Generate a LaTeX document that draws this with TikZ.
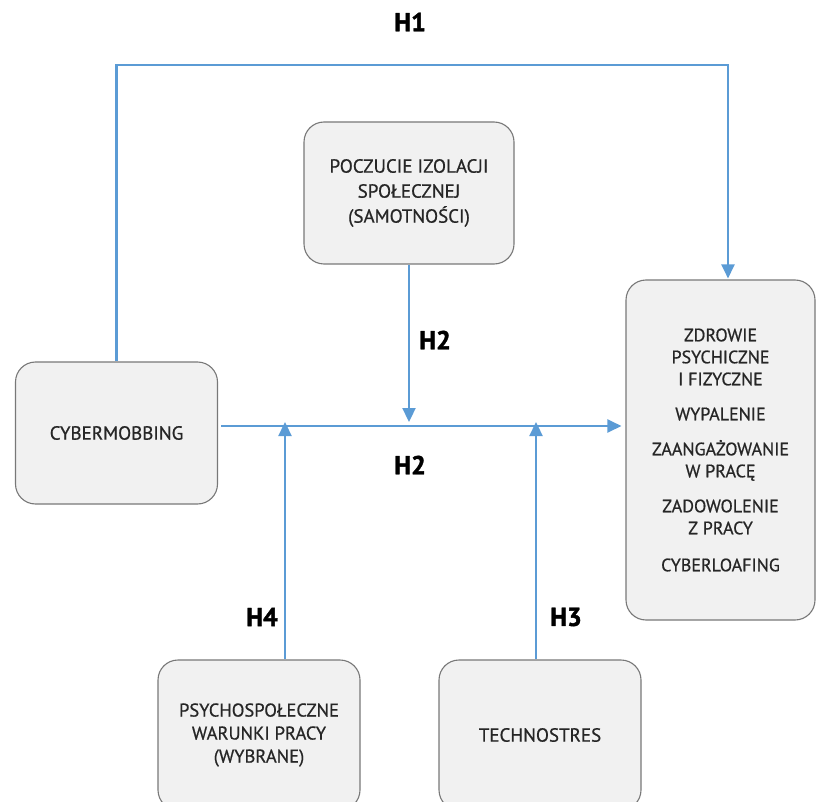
\documentclass[tikz,border=0pt]{standalone}
\usepackage{fontspec}
\setmainfont{PT Sans}[FakeBold=0.7, BoldFeatures={FakeBold=1.6}]
\usetikzlibrary{arrows.meta,positioning,calc}
\definecolor{linkblue}{RGB}{91,155,213}
\definecolor{boxgray}{RGB}{241,241,241}
\definecolor{edgegray}{RGB}{120,120,120}

\begin{document}
\begin{tikzpicture}[x=1pt,y=-1pt,
  box/.style={rectangle, draw=edgegray, fill=boxgray, line width=1.1pt, rounded corners=20pt,
              align=center, text=black!85, font=\fontsize{19}{25}\selectfont,
              minimum width=202pt, minimum height=142pt},
  arr/.style={-{Triangle[length=14pt,width=13pt]}, line width=2.3pt, linkblue},
  hyp/.style={font=\fontsize{26}{26}\selectfont\bfseries}
]
\useasboundingbox (0,0) rectangle (816,802);
\clip (0,0) rectangle (816,802);

\node[box](cyber) at (116.5,433){CYBERMOBBING};
\node[box, minimum width=210pt](isol) at (409,193){POCZUCIE IZOLACJI\\SPOŁECZNEJ\\(SAMOTNOŚCI)};
\node[box, minimum width=189pt, minimum height=340pt, font=\fontsize{18}{22}\selectfont](outcome) at (720.5,450)
  {ZDROWIE\\PSYCHICZNE\\I FIZYCZNE\\[13pt]WYPALENIE\\[13pt]ZAANGAŻOWANIE\\W PRACĘ\\[13pt]ZADOWOLENIE\\Z PRACY\\[15pt]CYBERLOAFING};
\node[box, minimum height=150pt, font=\fontsize{18.5}{23}\selectfont](psych) at (259,735){PSYCHOSPOŁECZNE\\WARUNKI PRACY\\(WYBRANE)};
\node[box, minimum height=150pt](techno) at (540,735){TECHNOSTRES};

\coordinate (h1top) at (728,65);
\coordinate (mid) at (409,426);

\draw[arr, shorten >=1pt](cyber.north) |- (h1top) -- (h1top |- outcome.north);
\draw[arr, shorten <=3pt, shorten >=4pt](cyber.east |- mid) -- (outcome.west |- mid);
\draw[arr, shorten >=4pt](isol.south) -- (isol.south |- mid);
\draw[arr, shorten >=-4pt]([xshift=26pt]psych.north) -- ([xshift=26pt]psych.north |- mid);
\draw[arr, shorten >=-4pt]([xshift=-4pt]techno.north) -- ([xshift=-4pt]techno.north |- mid);

\node[hyp](h1) at (410,22){H1};
\node[hyp](h2a) at (435,340){H2};
\node[hyp](h2b) at (410,465){H2};
\node[hyp](h4) at (262,617){H4};
\node[hyp](h3) at (566,617){H3};
\end{tikzpicture}
\end{document}
